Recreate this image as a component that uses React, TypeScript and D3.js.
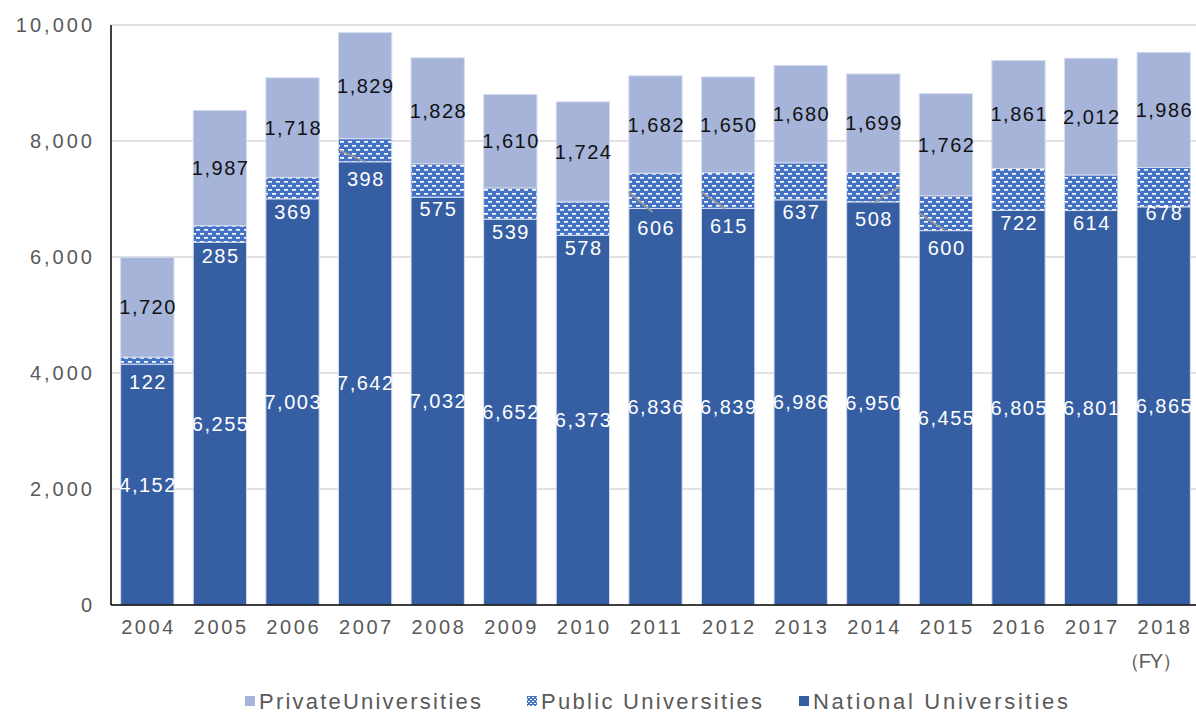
import React from 'react';
import * as d3 from 'd3';

const years = ['2004','2005','2006','2007','2008','2009','2010','2011','2012','2013','2014','2015','2016','2017','2018'];
const nationalUniv = [4152, 6255, 7003, 7642, 7032, 6652, 6373, 6836, 6839, 6986, 6950, 6455, 6805, 6801, 6865];
const publicUniv = [122, 285, 369, 398, 575, 539, 578, 606, 615, 637, 508, 600, 722, 614, 678];
const privateUniv = [1720, 1987, 1718, 1829, 1828, 1610, 1724, 1682, 1650, 1680, 1699, 1762, 1861, 2012, 1986];
const yTicks = [0, 2000, 4000, 6000, 8000, 10000];
const legendItems = ['PrivateUniversities', 'Public Universities', 'National Universities'];

// layout tweaks for public-university labels (px below the national segment top)
const publicLabelDy = [18, 14, 13, 17, 12, 13, 13, 19.5, 17.5, 12, 17, 17.5, 13, 12.5, 6];
// leader lines relative to label centre: [dx1, dy1, dx2, dy2]
const leaderLines: Record<string, number[]> = {
  '2007': [-27, -29, 0, -17],
  '2011': [-27, -36, -3, -16],
  '2012': [-27, -34, -3, -17],
  '2014': [0, -16, 26, -32],
  '2015': [-27, -35, 0, -17],
};
const legendX = [245, 527, 799];
const legendTextLen = [222, 221, 255];

const W = 1196, H = 713;
const COL_NAT = '#365EA2';
const COL_PRI = '#A6B4DA';
const COL_PUB = '#4472C4';
const FONT = '"Liberation Sans", Arial, sans-serif';
const fmt = d3.format(',');

export default function App() {
  const x = d3.scaleBand<string>().domain(years).range([111, 1200]).paddingInner(0.266).paddingOuter(0.133);
  const y = d3.scaleLinear().domain([0, 10000]).range([605, 25]);
  const bw = x.bandwidth();

  return (
    <svg width={W} height={H} style={{ position: 'absolute', left: 0, top: 0, background: '#fff' }} fontFamily={FONT}>
      <defs>
        <pattern id="pub" width="8" height="8" patternUnits="userSpaceOnUse">
          <rect width="8" height="8" fill={COL_PUB} />
          <rect x="0" y="1" width="4" height="1.7" fill="#fff" />
          <rect x="4" y="5" width="4" height="1.7" fill="#fff" />
        </pattern>
        <pattern id="pubLeg" width="4" height="4" patternUnits="userSpaceOnUse">
          <rect width="4" height="4" fill={COL_PUB} />
          <rect x="0" y="1" width="2" height="1" fill="#fff" />
          <rect x="2" y="3" width="2" height="1" fill="#fff" />
        </pattern>
      </defs>
      {/* gridlines */}
      {yTicks.filter(t => t > 0).map(t => (
        <line key={t} x1={111} x2={W} y1={y(t)} y2={y(t)} stroke="#D9D9D9" strokeWidth={1.5} />
      ))}
      {/* y tick labels */}
      {yTicks.map(t => (
        <text key={t} x={95} y={y(t)} textAnchor="end" dominantBaseline="central" fontSize={20} fill="#595959" letterSpacing={3}>{fmt(t)}</text>
      ))}
      {/* bars */}
      {years.map((yr, i) => {
        const x0 = x(yr)!;
        const n = nationalUniv[i], p = publicUniv[i], r = privateUniv[i];
        return (
          <g key={yr}>
            <rect x={x0} y={y(n)} width={bw} height={y(0) - y(n)} fill={COL_NAT} stroke="#D6DCEF" strokeWidth={1} />
            <rect x={x0} y={y(n + p)} width={bw} height={y(n) - y(n + p)} fill="url(#pub)" stroke="#D6DCEF" strokeWidth={1} />
            <rect x={x0} y={y(n + p + r)} width={bw} height={y(n + p) - y(n + p + r)} fill={COL_PRI} stroke="#D6DCEF" strokeWidth={1} />
          </g>
        );
      })}
      {/* axes */}
      <line x1={111} x2={111} y1={25} y2={605} stroke="#000" strokeWidth={1.5} />
      <line x1={111} x2={W} y1={605} y2={605} stroke="#000" strokeWidth={1.5} />
      {/* labels */}
      {years.map((yr, i) => {
        const cx = x(yr)! + bw / 2;
        const n = nationalUniv[i], p = publicUniv[i], r = privateUniv[i];
        const ly = y(n) + publicLabelDy[i];
        const ll = leaderLines[yr];
        return (
          <g key={'l' + yr}>
            <text x={cx + 0.75} y={y(n / 2)} textAnchor="middle" dominantBaseline="central" fontSize={20} fill="#fff" letterSpacing={1.5}>{fmt(n)}</text>
            {ll && <line x1={cx + ll[0]} y1={ly + ll[1]} x2={cx + ll[2]} y2={ly + ll[3]} stroke="#9A9A9A" strokeWidth={1.8} />}
            <text x={cx + 0.75} y={ly} textAnchor="middle" dominantBaseline="central" fontSize={20} fill="#fff" letterSpacing={1.5}>{fmt(p)}</text>
            <text x={cx + 0.75} y={y(n + p + r / 2)} textAnchor="middle" dominantBaseline="central" fontSize={20} fill="#111" letterSpacing={1.5}>{fmt(r)}</text>
            <text x={cx + 1.3} y={627} textAnchor="middle" dominantBaseline="central" fontSize={20} fill="#595959" letterSpacing={2.6}>{yr}</text>
          </g>
        );
      })}
      <text x={1120} y={661} dominantBaseline="central" fontSize={20} fill="#595959" textLength={62} lengthAdjust="spacing">（FY）</text>
      {/* legend */}
      {legendItems.map((name, i) => {
        const lx = legendX[i];
        const fill = i === 0 ? COL_PRI : i === 1 ? 'url(#pubLeg)' : COL_NAT;
        return (
          <g key={name}>
            <rect x={lx} y={696} width={10} height={10} fill={fill} />
            <text x={lx + 14} y={701} dominantBaseline="central" fontSize={22} fill="#595959" textLength={legendTextLen[i]} lengthAdjust="spacing">{name}</text>
          </g>
        );
      })}
    </svg>
  );
}
